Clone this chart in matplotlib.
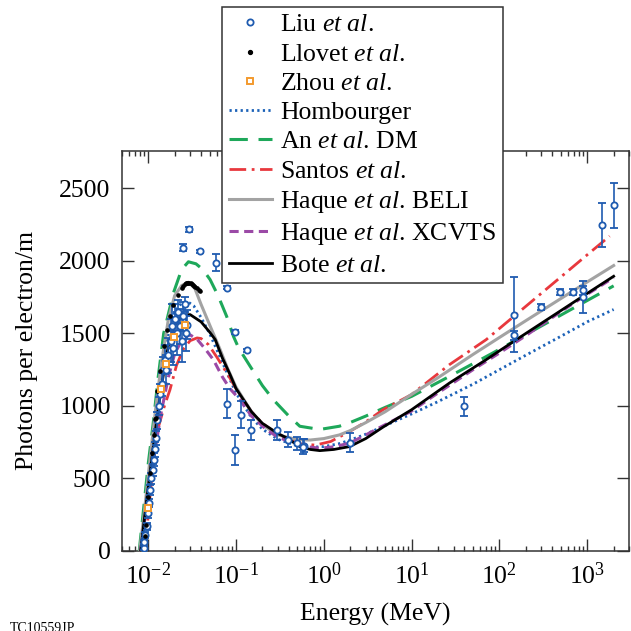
import matplotlib
matplotlib.use("Agg")
import matplotlib.pyplot as plt
from matplotlib.lines import Line2D
from matplotlib.ticker import LogLocator, NullFormatter

plt.rcParams["font.family"] = "Liberation Serif"
plt.rcParams["mathtext.fontset"] = "custom"
plt.rcParams["mathtext.rm"] = "Liberation Serif"
plt.rcParams["mathtext.it"] = "Liberation Serif:italic"
plt.rcParams["mathtext.bf"] = "Liberation Serif:bold"

OUTPUT_FIG = "out.png"

# ---- measurements -------------------------------------------------------
liu_e = [0.0089, 0.0090, 0.0093, 0.0096, 0.0099, 0.0102, 0.0104, 0.0108,
         0.0112, 0.0115, 0.0118, 0.0122, 0.0127, 0.0132, 0.0137, 0.0142,
         0.0148, 0.0155, 0.016, 0.017, 0.018, 0.0185, 0.019, 0.020, 0.021,
         0.022, 0.023, 0.024, 0.025, 0.026, 0.027, 0.028,
         0.0249, 0.0294, 0.0391, 0.0592, 0.0782, 0.0974, 0.132,
         0.0782, 0.0974, 0.1135, 0.15, 0.29, 0.393, 0.49, 0.593, 0.58,
         1.97, 39.3, 148, 148, 298, 493, 681, 885, 885, 1455, 2000]
liu_val = [20, 60, 110, 170, 260, 330, 420, 500,
           560, 630, 700, 780, 900, 1000, 1080, 1150,
           1250, 1320, 1250, 1350, 1450, 1550, 1400, 1600, 1500,
           1650, 1550, 1450, 1620, 1700, 1500, 1560,
           2090, 2217, 2067, 1987, 1814, 1508, 1383,
           1015, 697, 939, 831, 836, 767, 744, 725, 720,
           748, 997, 1630, 1487, 1683, 1786, 1786, 1796, 1750, 2247, 2385]
liu_err = [15, 15, 20, 25, 30, 30, 35, 40,
           40, 45, 50, 50, 60, 60, 70, 80,
           90, 100, 100, 120, 150, 150, 120, 100, 150,
           80, 120, 150, 100, 50, 120, 100,
           25, 20, 10, 60, 10, 15, 10,
           100, 103, 92, 69, 69, 50, 45, 45, 50,
           67, 67, 260, 30, 20, 20, 20, 30, 110, 153, 155]

llovet_e = [0.0092, 0.0094, 0.0097, 0.0100, 0.0106, 0.0110, 0.0115, 0.0118,
            0.0123, 0.0126, 0.0137, 0.0150, 0.0163, 0.0177, 0.0194, 0.0220,
            0.0240, 0.0250, 0.0260, 0.0270, 0.0276, 0.0285, 0.0295, 0.0305,
            0.0315, 0.0325, 0.0335, 0.0345, 0.0360, 0.0375, 0.0390]
llovet_val = [100, 180, 300, 375, 537, 675, 801, 912,
              916, 1100, 1238, 1410, 1526, 1618, 1699, 1768,
              1810, 1825, 1840, 1848, 1849, 1850, 1848, 1845,
              1840, 1835, 1828, 1820, 1810, 1800, 1791]

zhou_e = [0.0100, 0.0141, 0.0159, 0.0198, 0.0261]
zhou_val = [295, 1119, 1291, 1476, 1561]

# ---- model curves -------------------------------------------------------
hom_e = [0.0081, 0.009, 0.010, 0.012, 0.014, 0.017, 0.020, 0.024, 0.028,
         0.033, 0.040, 0.050, 0.070, 0.10, 0.15, 0.20, 0.30, 0.50, 0.70,
         1.0, 1.5, 2, 3, 5, 10, 20, 50, 100, 200, 500, 1000, 2000]
hom_val = [0, 230, 470, 880, 1200, 1500, 1650, 1710, 1720,
           1690, 1610, 1500, 1300, 1090, 920, 840, 770, 725, 715,
           720, 740, 765, 805, 865, 945, 1030, 1150, 1250, 1350, 1480, 1580, 1665]

an_e = [0.0079, 0.009, 0.010, 0.0115, 0.013, 0.015, 0.0194, 0.024, 0.0287,
        0.035, 0.042, 0.0507, 0.0625, 0.0782, 0.0935, 0.107, 0.145, 0.2,
        0.266, 0.4, 0.533, 0.9, 1.5, 2, 3, 5, 10, 27, 84, 200, 500, 1000, 2000]
an_val = [0, 330, 600, 900, 1200, 1500, 1780, 1940, 1994,
          1980, 1940, 1871, 1760, 1618, 1480, 1400, 1273, 1140,
          1043, 930, 860, 838, 860, 886, 930, 990, 1066, 1204, 1365, 1492, 1626, 1727, 1828]

santos_e = [0.0093, 0.010, 0.0115, 0.013, 0.0153, 0.0177, 0.021, 0.025, 0.030,
            0.036, 0.040, 0.0485, 0.06, 0.08, 0.10, 0.15, 0.20, 0.30, 0.533,
            0.8, 1.2, 1.97, 3, 4.72, 9.9, 27, 70.6, 200, 500, 1000, 1800]
santos_val = [0, 250, 628, 850, 1000, 1112, 1280, 1390, 1450,
              1469, 1465, 1423, 1340, 1220, 1120, 960, 880, 800, 739,
              730, 755, 824, 890, 974, 1077, 1285, 1457, 1687, 1889, 2042, 2171]

beli_e = [0.0080, 0.009, 0.010, 0.012, 0.014, 0.017, 0.020, 0.024, 0.0287,
          0.034, 0.040, 0.050, 0.066, 0.08, 0.10, 0.15, 0.20, 0.30, 0.50,
          0.70, 1.0, 1.5, 2, 3, 5, 10, 20, 50, 100, 200, 500, 1000, 2000]
beli_val = [0, 260, 520, 950, 1280, 1600, 1760, 1830, 1853,
            1810, 1700, 1560, 1388, 1260, 1130, 960, 870, 800, 768,
            765, 775, 800, 830, 885, 960, 1080, 1195, 1355, 1472, 1588, 1740, 1855, 1968]

xcvts_e = [0.0082, 0.009, 0.010, 0.012, 0.014, 0.017, 0.020, 0.025, 0.030,
           0.036, 0.045, 0.0552, 0.07, 0.085, 0.111, 0.15, 0.223, 0.30, 0.448,
           0.6, 0.9, 1.3, 1.97, 3, 4.72, 10, 20, 50, 100, 200, 500, 1000, 2000]
xcvts_val = [0, 190, 380, 700, 950, 1200, 1360, 1470, 1490,
             1460, 1390, 1319, 1200, 1120, 1043, 930, 836, 785, 744,
             720, 709, 718, 744, 800, 863, 965, 1090, 1250, 1365, 1485, 1650, 1770, 1885]

bote_e = [0.0082, 0.009, 0.010, 0.012, 0.014, 0.017, 0.020, 0.025, 0.030,
          0.040, 0.050, 0.058, 0.07, 0.085, 0.10, 0.15, 0.20, 0.30, 0.377,
          0.533, 0.7, 0.9, 1.3, 1.97, 3, 4.72, 10, 27, 70.6, 100, 200, 500, 1000, 2000]
bote_val = [0, 210, 440, 820, 1120, 1420, 1560, 1625, 1630,
            1580, 1510, 1457, 1330, 1220, 1120, 960, 880, 810, 780,
            720, 700, 692, 700, 720, 775, 854, 974, 1158, 1319, 1380, 1500, 1657, 1776, 1894]

Y_TICKS = [0, 500, 1000, 1500, 2000, 2500]

BLUE = "#1f5bb0"
DOT_BLUE = "#1c62b8"
GREEN = "#1ea85a"
RED = "#e8383d"
GRAY = "#a3a3a3"
PURPLE = "#9b4aa6"
ORANGE = "#f39a2e"

FS = 18.5


def main():
    fig = plt.figure(figsize=(6.31, 6.31), dpi=100)
    ax = fig.add_axes([0.193, 0.1268, 0.804, 0.6344])

    # model curves
    ax.plot(hom_e, hom_val, color=DOT_BLUE, lw=2.0, ls=(0, (0.8, 1.2)), zorder=3)
    ax.plot(an_e, an_val, color=GREEN, lw=2.2, ls=(0, (6, 3.5)), zorder=3)
    ax.plot(santos_e, santos_val, color=RED, lw=2.0, ls=(0, (6, 2, 1, 2)), zorder=3)
    ax.plot(beli_e, beli_val, color=GRAY, lw=2.2, ls="-", zorder=3)
    ax.plot(xcvts_e, xcvts_val, color=PURPLE, lw=2.2, ls=(0, (3, 1.8)), zorder=3)
    ax.plot(bote_e, bote_val, color="black", lw=2.0, ls="-", zorder=3)

    # experimental data
    ax.errorbar(liu_e, liu_val, yerr=liu_err, fmt="o", ms=4.5, mfc="white",
                mec=BLUE, mew=1.3, ecolor=BLUE, elinewidth=1.2, capsize=2.8,
                capthick=1.2, zorder=5)
    ax.plot(llovet_e, llovet_val, "o", ms=2.3, color="black", zorder=6)
    ax.plot(zhou_e, zhou_val, "s", ms=5, mfc="white", mec=ORANGE, mew=1.4, zorder=6)

    ax.set_xscale("log")
    ax.set_xlim(0.005, 3000)
    ax.set_ylim(0, 2760)
    ax.set_yticks(Y_TICKS)
    ax.xaxis.set_minor_locator(LogLocator(base=10, subs=range(2, 10), numticks=20))
    ax.xaxis.set_minor_formatter(NullFormatter())

    ax.tick_params(which="both", direction="in", top=True, right=True,
                   labelsize=FS, width=1.0, color="#333333")
    ax.tick_params(which="major", length=8.5, pad=8)
    ax.tick_params(which="minor", length=3.8)
    ax.tick_params(axis="y", which="minor", left=False, right=False)
    for sp in ax.spines.values():
        sp.set_linewidth(1.1)
        sp.set_color("#333333")

    ax.set_xlabel("Energy (MeV)", fontsize=FS, labelpad=10)
    ax.set_ylabel("Photons per electron/m", fontsize=FS, labelpad=15)

    handles = [
        Line2D([], [], ls="none", marker="o", ms=4.5, mfc="white", mec=BLUE, mew=1.3),
        Line2D([], [], ls="none", marker="o", ms=2.8, color="black"),
        Line2D([], [], ls="none", marker="s", ms=5, mfc="white", mec=ORANGE, mew=1.4),
        Line2D([], [], color=DOT_BLUE, lw=2.0, ls=(0, (0.8, 1.2))),
        Line2D([], [], color=GREEN, lw=2.2, ls=(0, (6, 3.5))),
        Line2D([], [], color=RED, lw=2.0, ls=(0, (6, 2, 1, 2))),
        Line2D([], [], color=GRAY, lw=2.2),
        Line2D([], [], color=PURPLE, lw=2.2, ls=(0, (3, 1.8))),
        Line2D([], [], color="black", lw=2.0),
    ]
    labels = [
        r"Liu $\mathit{et\ al}$.",
        r"Llovet $\mathit{et\ al}$.",
        r"Zhou $\mathit{et\ al}$.",
        "Hombourger",
        r"An $\mathit{et\ al}$. DM",
        r"Santos $\mathit{et\ al}$.",
        r"Haque $\mathit{et\ al}$. BELI",
        r"Haque $\mathit{et\ al}$. XCVTS",
        r"Bote $\mathit{et\ al}$.",
    ]
    leg = fig.legend(handles, labels, loc="upper left",
                     bbox_to_anchor=(0.352, 0.989), bbox_transform=fig.transFigure,
                     fontsize=FS, frameon=True, fancybox=False, framealpha=1,
                     edgecolor="#333333", handlelength=1.7, handletextpad=0.3,
                     labelspacing=0.245, borderpad=0.25, borderaxespad=0,
                     numpoints=1)
    leg.get_frame().set_linewidth(1.1)

    fig.text(0.016, 0.0143, "TC10559JP", fontsize=10, va="top", ha="left")

    fig.savefig(OUTPUT_FIG, dpi=100)


if __name__ == "__main__":
    main()
